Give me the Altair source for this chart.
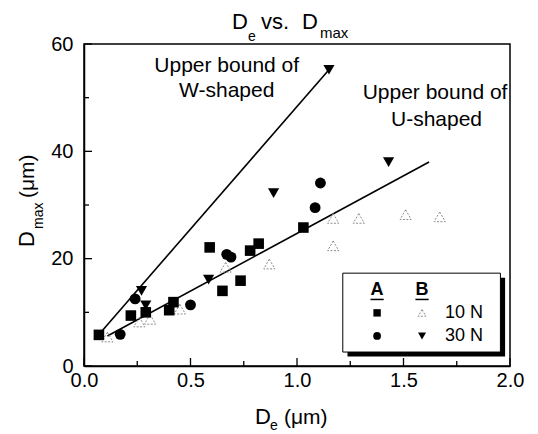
import altair as alt
import pandas as pd

# ---- data ----
a10_x = [0.07, 0.22, 0.29, 0.40, 0.42, 0.59, 0.65, 0.735, 0.78, 0.82, 1.03]
a10_y = [5.8, 9.4, 10.0, 10.4, 11.9, 22.1, 14.0, 15.9, 21.5, 22.8, 25.8]
a30_x = [0.17, 0.24, 0.50, 0.67, 0.69, 1.085, 1.11]
a30_y = [5.9, 12.5, 11.4, 20.8, 20.3, 29.5, 34.1]
b10_x = [0.11, 0.26, 0.31, 0.45, 0.665, 0.87, 1.17, 1.17, 1.29, 1.51, 1.67]
b10_y = [5.4, 8.2, 8.7, 10.6, 18.4, 19.0, 22.4, 27.5, 27.5, 28.2, 27.8]
b30_x = [0.27, 0.29, 0.585, 0.89, 1.15, 1.43]
b30_y = [14.0, 11.3, 16.1, 32.2, 55.2, 38.0]

w_line_x = [0.066, 1.15]
w_line_y = [5.7, 55.2]
u_line_x = [0.11, 1.62]
u_line_y = [5.6, 38.0]

x_major = [0.0, 0.5, 1.0, 1.5, 2.0]
x_minor = [0.25, 0.75, 1.25, 1.75]
y_major = [0, 20, 40, 60]
y_minor = [10, 30, 50]

FONT = "Liberation Sans"
W, H = 426, 322

xs = alt.Scale(domain=[0, 2], nice=False, zero=False)
ys = alt.Scale(domain=[0, 60], nice=False, zero=False)

xaxis = alt.Axis(values=x_major, format=".1f", ticks=False, grid=False, title=None,
                 labelFont=FONT, labelFontSize=20, labelColor="black", labelFlush=False,
                 labelPadding=4, domainColor="black", domainWidth=1.5)
yaxis = alt.Axis(values=y_major, format="d", ticks=False, grid=False, title=None,
                 labelFont=FONT, labelFontSize=20, labelColor="black", labelFlush=False,
                 labelPadding=11, domainColor="black", domainWidth=1.5)


def pts(xv, yv):
    return pd.DataFrame({"x": xv, "y": yv})


X = alt.X("x:Q", scale=xs, axis=xaxis)
Y = alt.Y("y:Q", scale=ys, axis=yaxis)

lines_df = pd.concat([
    pd.DataFrame({"x": w_line_x, "y": w_line_y, "line": "W"}),
    pd.DataFrame({"x": u_line_x, "y": u_line_y, "line": "U"}),
])
lines = alt.Chart(lines_df).mark_line(color="black", strokeWidth=1.6).encode(x=X, y=Y, detail="line:N")

sq = alt.Chart(pts(a10_x, a10_y)).mark_point(shape="square", filled=True, color="black",
                                              size=112, opacity=1).encode(x=X, y=Y)
ci = alt.Chart(pts(a30_x, a30_y)).mark_point(shape="circle", filled=True, color="black",
                                              size=118, opacity=1).encode(x=X, y=Y)
tu = alt.Chart(pts(b10_x, b10_y)).mark_point(shape="triangle-up", filled=False, stroke="#8c8c8c",
                                              strokeWidth=1, strokeDash=[2, 1.5], size=125,
                                              opacity=1).encode(x=X, y=Y)
td = alt.Chart(pts(b30_x, b30_y)).mark_point(shape="triangle-down", filled=True, color="black",
                                              size=125, opacity=1).encode(x=X, y=Y)

# inward ticks
xt_maj = alt.Chart(pd.DataFrame({"x": x_major})).mark_rule(color="black", strokeWidth=1.3).encode(
    x=X, y=alt.value(H), y2=alt.value(H - 8))
xt_min = alt.Chart(pd.DataFrame({"x": x_minor})).mark_rule(color="black", strokeWidth=1.3).encode(
    x=X, y=alt.value(H), y2=alt.value(H - 5))
yt_maj = alt.Chart(pd.DataFrame({"y": y_major})).mark_rule(color="black", strokeWidth=1.3).encode(
    y=Y, x=alt.value(0), x2=alt.value(8))
yt_min = alt.Chart(pd.DataFrame({"y": y_minor})).mark_rule(color="black", strokeWidth=1.3).encode(
    y=Y, x=alt.value(0), x2=alt.value(5))

# annotations
ann_df = pd.DataFrame({
    "x": [0.67, 0.67, 1.648, 1.655],
    "y": [55.9, 51.2, 50.9, 45.8],
    "t": ["Upper bound of", "W-shaped", "Upper bound of", "U-shaped"],
})
ann = alt.Chart(ann_df).mark_text(font=FONT, fontSize=21, color="black", align="center",
                                  baseline="middle").encode(x=X, y=Y, text="t:N")

# legend (box drawn in data coordinates)
box_df = pd.DataFrame({"x": [1.215], "x2": [1.955], "y": [2.6], "y2": [17.3]})
shadow_df = pd.DataFrame({"x": [1.237], "x2": [1.977], "y": [1.75], "y2": [16.45]})
shadow = alt.Chart(shadow_df).mark_rect(color="black").encode(x=X, x2="x2:Q", y=Y, y2="y2:Q")
box = alt.Chart(box_df).mark_rect(fill="white", stroke="black", strokeWidth=1).encode(
    x=X, x2="x2:Q", y=Y, y2="y2:Q")

leg_x_a, leg_x_b, leg_x_t = 1.376, 1.587, 1.784
leg_y_h, leg_y_1, leg_y_2 = 14.2, 9.9, 5.6
hdr = alt.Chart(pd.DataFrame({"x": [leg_x_a, leg_x_b], "y": [leg_y_h, leg_y_h], "t": ["A", "B"]})).mark_text(
    font=FONT, fontSize=18, fontWeight="bold", color="black", align="center", baseline="middle"
).encode(x=X, y=Y, text="t:N")
uline = alt.Chart(pd.DataFrame({"x": [1.345, 1.556], "x2": [1.407, 1.618], "y": [12.4, 12.4]})).mark_rule(
    color="black", strokeWidth=1.5).encode(x=X, x2="x2:Q", y=Y)
leg_t = alt.Chart(pd.DataFrame({"x": [leg_x_t, leg_x_t], "y": [leg_y_1, leg_y_2], "t": ["10 N", "30 N"]})).mark_text(
    font=FONT, fontSize=18, color="black", align="center", baseline="middle"
).encode(x=X, y=Y, text="t:N")
l_sq = alt.Chart(pts([leg_x_a], [leg_y_1])).mark_point(shape="square", filled=True, color="black",
                                                        size=55, opacity=1).encode(x=X, y=Y)
l_tu = alt.Chart(pts([leg_x_b], [leg_y_1])).mark_point(shape="triangle-up", filled=False, stroke="#8c8c8c",
                                                        strokeWidth=1, strokeDash=[2, 1.5], size=60,
                                                        opacity=1).encode(x=X, y=Y)
l_ci = alt.Chart(pts([leg_x_a], [leg_y_2])).mark_point(shape="circle", filled=True, color="black",
                                                        size=60, opacity=1).encode(x=X, y=Y)
l_td = alt.Chart(pts([leg_x_b], [leg_y_2])).mark_point(shape="triangle-down", filled=True, color="black",
                                                        size=65, opacity=1).encode(x=X, y=Y)

# title and axis titles with subscripts (text pieces)
one = pd.DataFrame({"a": [0]})


def txt(s, px, py, size, angle=0):
    kw = dict(text=s, font=FONT, fontSize=size, color="black", align="left", baseline="alphabetic")
    if angle:
        kw["angle"] = angle
    return alt.Chart(one).mark_text(**kw).encode(x=alt.value(px), y=alt.value(py))


titles = [
    txt("D", 148, -15, 22), txt("e", 164, -3, 14), txt("vs.", 177, -15, 22),
    txt("D", 218, -15, 22), txt("max", 236, -6, 15),
    txt("D", 171, 380, 22), txt("e", 186, 386, 14), txt("(\u03bcm)", 200, 380, 21),
    txt("D", -50, 203, 22, 270), txt("max", -41, 185, 14, 270), txt("(\u03bcm)", -50, 154, 21, 270),
]

chart = alt.layer(
    lines, tu, sq, ci, td,
    xt_maj, xt_min, yt_maj, yt_min,
    ann,
    shadow, box, hdr, uline, leg_t, l_sq, l_tu, l_ci, l_td,
    *titles,
).properties(
    width=W, height=H,
    padding={"left": 76, "top": 36, "right": 20, "bottom": 68},
    autosize=alt.AutoSizeParams(type="none"),
).configure_view(stroke="black", strokeWidth=1.5)

chart.save("out.html", embed_options={"renderer": "svg", "actions": False})
